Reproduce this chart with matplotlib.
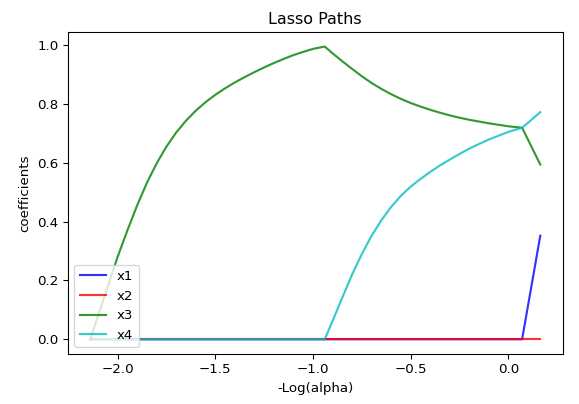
import matplotlib
matplotlib.use("Agg")
import matplotlib.pyplot as plt

# -log10(alpha) grid
neg_log_alpha = [-2.14,
                 -2.1, -2.05, -2.0, -1.95, -1.9, -1.85, -1.8, -1.75, -1.7, -1.65, -1.6, -1.55,
                 -1.5, -1.45, -1.4, -1.35, -1.3, -1.25, -1.2, -1.15, -1.1, -1.05, -1.0,
                 -0.94,
                 -0.9, -0.85, -0.8, -0.75, -0.7, -0.65, -0.6, -0.55, -0.5, -0.45, -0.4,
                 -0.35, -0.3, -0.25, -0.2, -0.15, -0.1, -0.05,
                 0.0, 0.07, 0.163]

coef_x1 = [0.0] * 45 + [0.352]
coef_x2 = [0.0] * 46
coef_x3 = [0.0,
           0.08, 0.18, 0.28, 0.37, 0.455, 0.532, 0.598, 0.655, 0.703, 0.743, 0.777, 0.806,
           0.831, 0.853, 0.873, 0.891, 0.908, 0.924, 0.939, 0.953, 0.966, 0.977, 0.987,
           0.995,
           0.972, 0.945, 0.919, 0.894, 0.871, 0.851, 0.833, 0.817, 0.803, 0.791, 0.780,
           0.770, 0.761, 0.753, 0.746, 0.740, 0.734, 0.729,
           0.724, 0.719, 0.594]
coef_x4 = [0.0] * 25 + [0.062, 0.142, 0.220, 0.290, 0.352, 0.405, 0.450, 0.488, 0.519,
                        0.545, 0.569, 0.591, 0.611, 0.630, 0.648, 0.664, 0.679, 0.692,
                        0.705, 0.719, 0.772]

labels = ["x1", "x2", "x3", "x4"]
colors = ["b", "r", "g", "c"]

fig = plt.figure(figsize=(579 / 96, 404 / 96), dpi=96)
ax = fig.add_axes([0.117, 0.124, 0.855, 0.797])

for coefs, lbl, col in zip([coef_x1, coef_x2, coef_x3, coef_x4], labels, colors):
    ax.plot(neg_log_alpha, coefs, color=col, alpha=0.8, linewidth=1.6, label=lbl)

ax.set_title("Lasso Paths")
ax.set_xlabel("-Log(alpha)")
ax.set_ylabel("coefficients")
ax.legend(loc="lower left")

plt.savefig("out.png", dpi=96)
plt.close()
